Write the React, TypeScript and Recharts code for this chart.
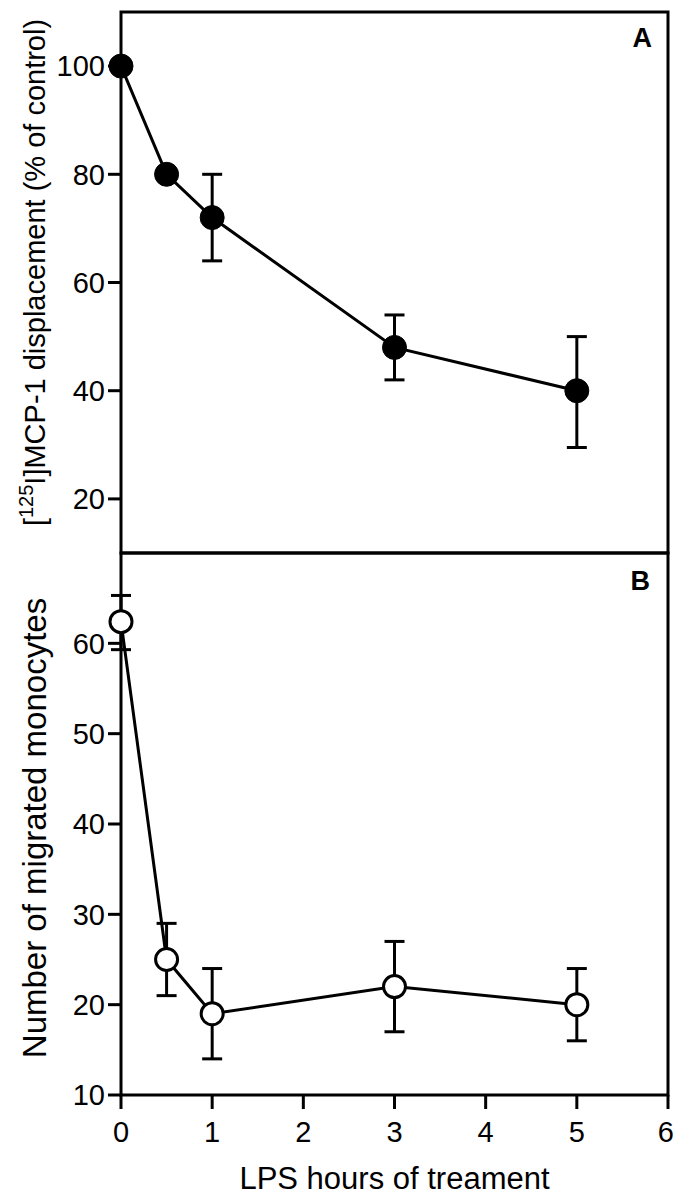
import {
  ErrorBar,
  Label,
  Line,
  LineChart,
  ReferenceArea,
  XAxis,
  YAxis,
} from "recharts";

const hours = [0, 0.5, 1, 3, 5];

// panel A: [125I]MCP-1 displacement (% of control)
const bindingMean = [100, 80, 72, 48, 40];
const bindingLow = [100, 80, 64, 42, 29.5];
const bindingHigh = [100, 80, 80, 54, 50];

// panel B: number of migrated monocytes
const migratedMean = [62.4, 25, 19, 22, 20];
const migratedLow = [59.3, 21, 14, 17, 16];
const migratedHigh = [65.3, 29, 24, 27, 24];

const xTicks = [0, 1, 2, 3, 4, 5, 6];
const topTicks = [1, 2, 3, 4, 5];
const yTicksA = [20, 40, 60, 80, 100];
const yTicksB = [10, 20, 30, 40, 50, 60];

const dataA = hours.map((h, i) => ({
  h,
  v: bindingMean[i],
  err: [bindingMean[i] - bindingLow[i], bindingHigh[i] - bindingMean[i]],
}));

const dataB = hours.map((h, i) => ({
  h,
  v: migratedMean[i],
  err: [migratedMean[i] - migratedLow[i], migratedHigh[i] - migratedMean[i]],
}));

const tickStyle = { fill: "#000", fontSize: 29 };

function TitleA({ viewBox }: any) {
  const cy = viewBox.y + viewBox.height / 2 - 10;
  const x = 37;
  return (
    <text
      x={x}
      y={cy}
      transform={`rotate(-90, ${x}, ${cy})`}
      textAnchor="middle"
      fontSize={29}
      fill="#000"
    >
      <tspan>[</tspan>
      <tspan fontSize={20} dy={-12}>125</tspan>
      <tspan dy={12}>I]MCP-1 displacement (% of control)</tspan>
    </text>
  );
}

function TitleB({ viewBox }: any) {
  const cy = viewBox.y + viewBox.height / 2 + 4;
  const x = 38;
  return (
    <text
      x={x}
      y={cy}
      transform={`rotate(-90, ${x}, ${cy})`}
      textAnchor="middle"
      fontSize={33}
      fill="#000"
    >
      Number of migrated monocytes
    </text>
  );
}

export default function App() {
  return (
    <div
      style={{
        position: "relative",
        width: 665,
        height: 1183,
        fontFamily: "'Liberation Sans', Arial, sans-serif",
      }}
    >
      <div style={{ position: "absolute", left: 0, top: 0 }}>
        <LineChart
          width={665}
          height={560}
          data={dataA}
          margin={{ top: 4, right: 5, bottom: 15, left: 0 }}
        >
          <XAxis dataKey="h" type="number" domain={[0, 6]} ticks={xTicks} hide />
          <YAxis
            type="number"
            domain={[10, 110]}
            ticks={yTicksA}
            width={113}
            axisLine={false}
            tickLine={{ stroke: "#000", strokeWidth: 3 }}
            tickSize={13}
            tickMargin={3}
            tick={tickStyle}
          >
            <Label content={TitleA} />
          </YAxis>
          <ReferenceArea
            x1={0}
            x2={6}
            y1={10}
            y2={110}
            fill="none"
            stroke="#000"
            strokeWidth={3}
            label={{
              value: "A",
              position: "insideTopRight",
              offset: 16,
              fontSize: 27,
              fontWeight: "bold",
              fill: "#000",
            }}
          />
          <Line
            dataKey="v"
            type="linear"
            stroke="#000"
            strokeWidth={3}
            dot={{ r: 12, fill: "#000", stroke: "#000", strokeWidth: 1 }}
            isAnimationActive={false}
          >
            <ErrorBar dataKey="err" direction="y" width={10} stroke="#000" strokeWidth={3} />
          </Line>
        </LineChart>
      </div>
      <div style={{ position: "absolute", left: 0, top: 535 }}>
        <LineChart
          width={665}
          height={656}
          data={dataB}
          margin={{ top: 10, right: 5, bottom: 8, left: 0 }}
        >
          <XAxis
            dataKey="h"
            type="number"
            domain={[0, 6]}
            ticks={xTicks}
            height={96}
            axisLine={false}
            tickLine={{ stroke: "#000", strokeWidth: 3 }}
            tickSize={14}
            tickMargin={12}
            tick={tickStyle}
          >
            <Label
              value="LPS hours of treament"
              position="insideBottom"
              offset={2}
              fontSize={31}
              fill="#000"
            />
          </XAxis>
          <XAxis
            xAxisId="top"
            orientation="top"
            type="number"
            domain={[0, 6]}
            ticks={topTicks}
            mirror
            height={0}
            axisLine={false}
            tick={false}
            tickLine={{ stroke: "#000", strokeWidth: 3 }}
            tickSize={14}
          />
          <YAxis
            type="number"
            domain={[10, 70]}
            ticks={yTicksB}
            width={113}
            axisLine={false}
            tickLine={{ stroke: "#000", strokeWidth: 3 }}
            tickSize={13}
            tickMargin={3}
            tick={tickStyle}
          >
            <Label content={TitleB} />
          </YAxis>
          <ReferenceArea
            x1={0}
            x2={6}
            y1={10}
            y2={70}
            fill="none"
            stroke="#000"
            strokeWidth={3}
            label={{
              value: "B",
              position: "insideTopRight",
              offset: 18,
              fontSize: 27,
              fontWeight: "bold",
              fill: "#000",
            }}
          />
          <Line
            dataKey="v"
            type="linear"
            stroke="#000"
            strokeWidth={3}
            dot={{ r: 11, fill: "#fff", stroke: "#000", strokeWidth: 3 }}
            isAnimationActive={false}
          >
            <ErrorBar dataKey="err" direction="y" width={10} stroke="#000" strokeWidth={3} />
          </Line>
        </LineChart>
      </div>
    </div>
  );
}
